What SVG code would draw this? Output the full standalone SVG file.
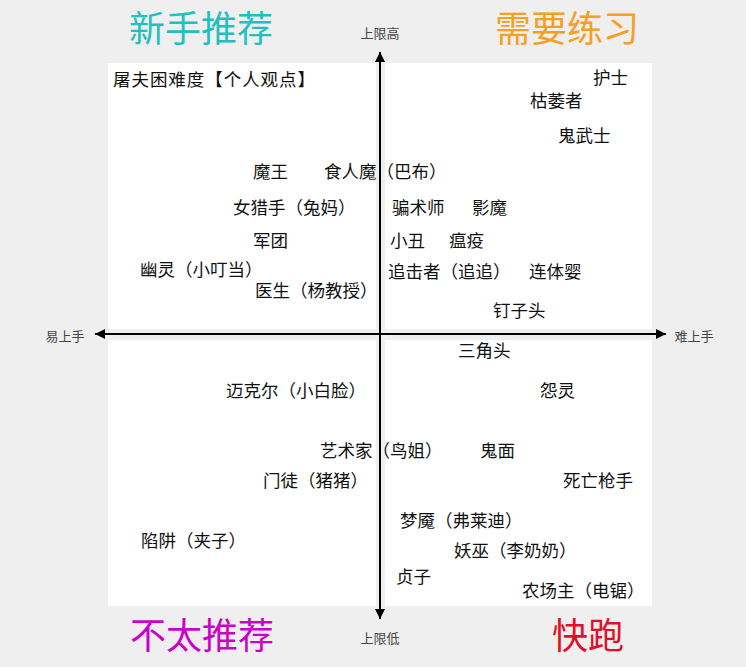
<svg xmlns="http://www.w3.org/2000/svg" width="746" height="667" viewBox="0 0 746 667">
<style>
text{text-spacing-trim:space-all;font-feature-settings:"chws" 0,"halt" 0,"palt" 0}
.n{font-family:"Noto Sans CJK SC","Noto Sans",sans-serif;font-size:17.5px;fill:#111}
.ax{font-family:"Noto Sans CJK SC","Noto Sans",sans-serif;font-size:13px;fill:#444}
.t{font-family:"Noto Sans CJK SC","Noto Sans",sans-serif;font-size:36px}
.q{fill:#fff}
.line{stroke:#000;stroke-width:2;fill:none}
</style>
<defs>
<marker id="a" viewBox="0 0 10 10" refX="10" refY="5" markerWidth="10" markerHeight="10" markerUnits="userSpaceOnUse" orient="auto">
<path d="M0,0 L10,5 L0,10 z" fill="#000"/>
</marker>
</defs>
<rect width="746" height="667" fill="#efefef"/>
<g id="quadrants">
<rect class="q" x="108" y="63" width="268" height="266"/>
<rect class="q" x="385" y="63" width="267" height="266"/>
<rect class="q" x="108" y="340" width="268" height="266"/>
<rect class="q" x="385" y="340" width="267" height="266"/>
</g>
<g id="connectors">
<line class="line" x1="380" y1="334" x2="380" y2="52" marker-end="url(#a)"/>
<line class="line" x1="380" y1="334" x2="380" y2="619" marker-end="url(#a)"/>
<line class="line" x1="380" y1="334" x2="95" y2="334" marker-end="url(#a)"/>
<line class="line" x1="380" y1="334" x2="666" y2="334" marker-end="url(#a)"/>
</g>
<g id="axis-labels">
<text class="ax" x="380" y="38" text-anchor="middle">上限高</text>
<text class="ax" x="380" y="643" text-anchor="middle">上限低</text>
<text class="ax" x="65" y="341" text-anchor="middle">易上手</text>
<text class="ax" x="694" y="341" text-anchor="middle">难上手</text>
</g>
<g id="titles">
<text class="t" x="201" y="42" text-anchor="middle" fill="#20c0c0">新手推荐</text>
<text class="t" x="567" y="42" text-anchor="middle" fill="#f5a020">需要练习</text>
<text class="t" x="202" y="649" text-anchor="middle" fill="#cc00cc">不太推荐</text>
<text class="t" x="588" y="649" text-anchor="middle" fill="#e0102a">快跑</text>
</g>
<g id="heading"><text class="n" x="113" y="86" font-size="18" textLength="202" lengthAdjust="spacing">屠夫困难度【个人观点】</text></g>
<g id="n-hushi"><text class="n" x="593" y="84">护士</text></g>
<g id="n-kuweizhe"><text class="n" x="530" y="107">枯萎者</text></g>
<g id="n-guiwushi"><text class="n" x="558" y="142">鬼武士</text></g>
<g id="n-mowang"><text class="n" x="253" y="178">魔王</text></g>
<g id="n-shirenmo"><text class="n" x="324" y="178">食人魔（巴布）</text></g>
<g id="n-nvlieshou"><text class="n" x="233" y="214">女猎手（兔妈）</text></g>
<g id="n-pianshushi"><text class="n" x="392" y="214">骗术师</text></g>
<g id="n-yingmo"><text class="n" x="472" y="214">影魔</text></g>
<g id="n-juntuan"><text class="n" x="253" y="247">军团</text></g>
<g id="n-xiaochou"><text class="n" x="390" y="247">小丑</text></g>
<g id="n-wenyi"><text class="n" x="449" y="247">瘟疫</text></g>
<g id="n-youling"><text class="n" x="140" y="276">幽灵（小叮当）</text></g>
<g id="n-zhuijizhe"><text class="n" x="388" y="278">追击者（追追）</text></g>
<g id="n-liantiying"><text class="n" x="529" y="278">连体婴</text></g>
<g id="n-yisheng"><text class="n" x="255" y="297">医生（杨教授）</text></g>
<g id="n-dingzitou"><text class="n" x="493" y="317">钉子头</text></g>
<g id="n-sanjiaotou"><text class="n" x="458" y="357">三角头</text></g>
<g id="n-maikeer"><text class="n" x="226" y="397">迈克尔（小白脸）</text></g>
<g id="n-yuanling"><text class="n" x="540" y="397">怨灵</text></g>
<g id="n-yishujia"><text class="n" x="320" y="457">艺术家（鸟姐）</text></g>
<g id="n-guimian"><text class="n" x="480" y="457">鬼面</text></g>
<g id="n-mentu"><text class="n" x="263" y="487">门徒（猪猪）</text></g>
<g id="n-siwangqiangshou"><text class="n" x="563" y="487">死亡枪手</text></g>
<g id="n-mengyan"><text class="n" x="400" y="527">梦魇（弗莱迪）</text></g>
<g id="n-xianjing"><text class="n" x="141" y="547">陷阱（夹子）</text></g>
<g id="n-yaowu"><text class="n" x="454" y="557">妖巫（李奶奶）</text></g>
<g id="n-zhenzi"><text class="n" x="396" y="583">贞子</text></g>
<g id="n-nongchangzhu"><text class="n" x="522" y="597">农场主（电锯）</text></g>
</svg>
